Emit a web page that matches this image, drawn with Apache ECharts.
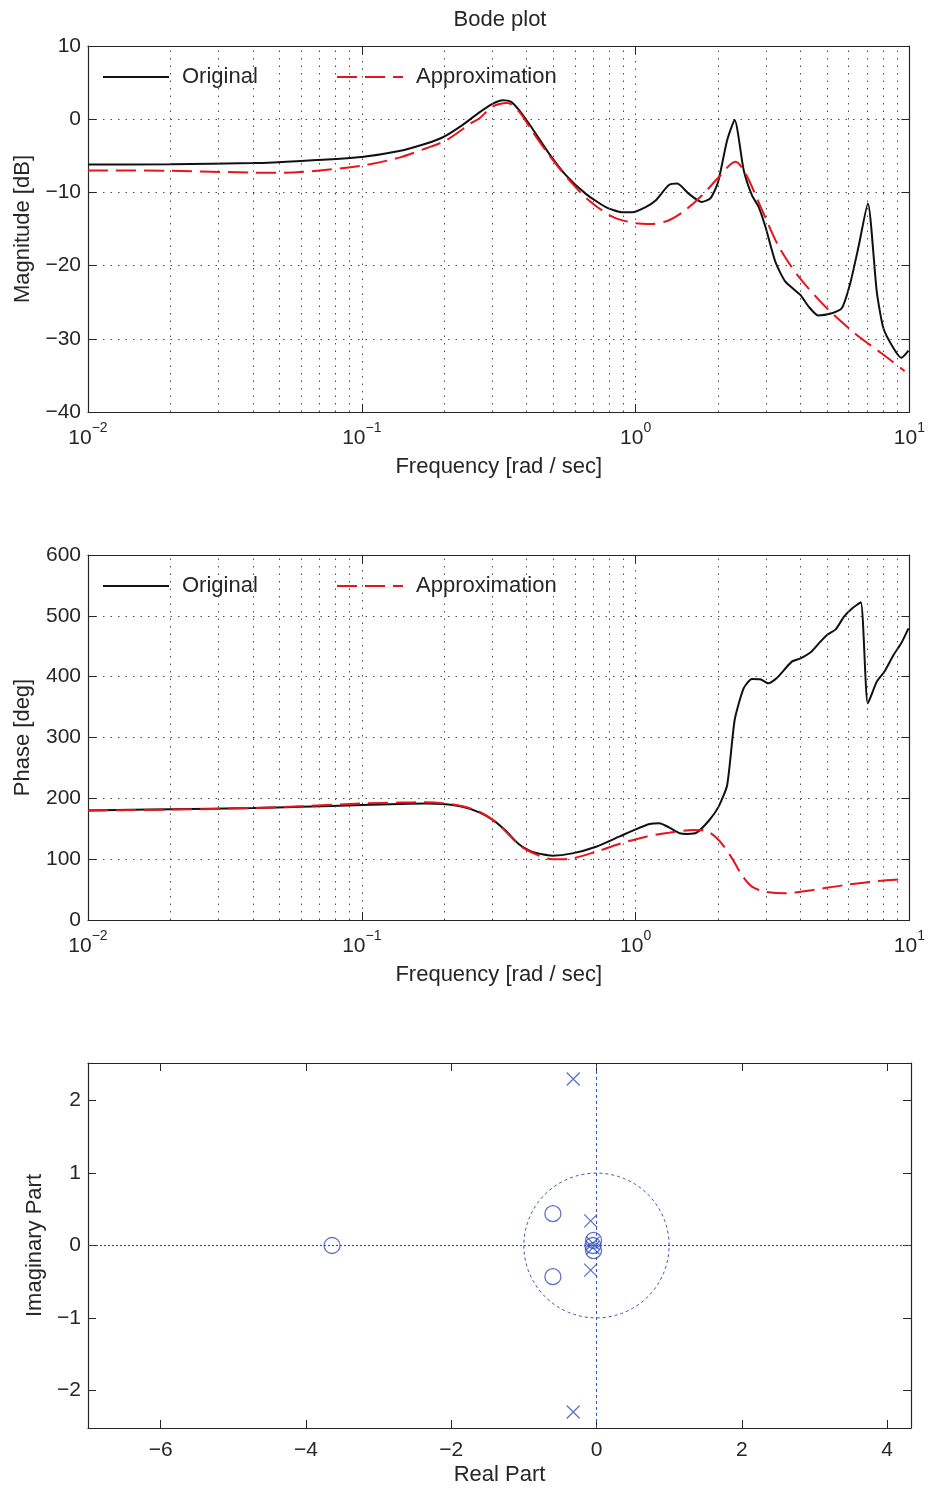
<!DOCTYPE html>
<html>
<head>
<meta charset="utf-8">
<script src="https://cdn.jsdelivr.net/npm/echarts@6/dist/echarts.min.js"></script>
<style>
  html, body { margin: 0; padding: 0; background: #ffffff; }
  #chart { width: 928px; height: 1488px; }
</style>
</head>
<body>
<div id="chart"></div>
<script>
// ---- Bode magnitude, original system (rad/s, dB) ----
const magOrigFreq = [0.01, 0.02, 0.04, 0.06, 0.1, 0.137, 0.171, 0.197, 0.233, 0.268, 0.30, 0.327, 0.35, 0.376, 0.42, 0.483, 0.556, 0.658, 0.778, 0.893, 0.972, 1.088, 1.183, 1.323, 1.419, 1.565, 1.741, 1.877, 2.0, 2.158, 2.30, 2.483, 2.661, 2.816, 2.979, 3.24, 3.524, 3.996, 4.285, 4.633, 5.209, 5.666, 6.08, 6.52, 7.05, 7.60, 8.04, 8.75, 9.33, 9.92];
const magOrigDb = [-6.2, -6.15, -6.0, -5.7, -5.15, -4.35, -3.35, -2.5, -0.8, 0.9, 2.1, 2.6, 2.4, 1.2, -1.3, -4.7, -7.65, -10.2, -12.0, -12.7, -12.7, -12.0, -11.1, -9.0, -8.8, -10.2, -11.3, -10.8, -8.6, -2.9, -0.1, -7.0, -10.4, -12.0, -14.7, -19.5, -22.2, -24.0, -25.6, -26.8, -26.5, -25.8, -22.4, -17.4, -11.5, -23.6, -28.6, -31.3, -32.6, -31.6];

// ---- Bode magnitude, reduced-order approximation ----
const magApproxFreq = [0.01, 0.02, 0.04, 0.05, 0.066, 0.1, 0.137, 0.171, 0.204, 0.254, 0.2685, 0.30, 0.34, 0.376, 0.42, 0.483, 0.571, 0.676, 0.822, 1.0, 1.15, 1.323, 1.521, 1.75, 2.014, 2.316, 2.518, 2.895, 3.331, 3.94, 4.928, 6.34, 7.93, 9.6];
const magApproxDb = [-7.0, -7.05, -7.3, -7.33, -7.1, -6.35, -5.25, -4.0, -2.85, -0.4, 0.1, 1.7, 2.2, 1.0, -1.7, -4.9, -8.3, -11.1, -13.3, -14.2, -14.3, -13.8, -12.4, -10.4, -7.9, -5.8, -7.4, -12.4, -17.4, -21.5, -25.6, -29.3, -32.0, -34.4];

// ---- Bode phase, original system (deg) ----
const phaseOrigFreq = [0.01, 0.02, 0.04, 0.06, 0.1, 0.137, 0.171, 0.197, 0.233, 0.2685, 0.30, 0.335, 0.376, 0.42, 0.496, 0.587, 0.717, 0.87, 1.0, 1.125, 1.22, 1.323, 1.45, 1.55, 1.67, 1.86, 2.01, 2.16, 2.30, 2.48, 2.66, 2.85, 3.05, 3.27, 3.72, 4.0, 4.36, 4.67, 5.0, 5.38, 5.77, 6.19, 6.64, 7.05, 7.60, 8.1, 8.75, 9.33, 9.92];
const phaseOrigDeg = [180, 182, 184, 186, 189, 190.7, 191.5, 190.5, 186, 177, 165, 147, 124, 112, 105.7, 109.5, 120.5, 137, 149, 157.8, 159, 152.4, 142.5, 141.4, 143.5, 164.4, 186.3, 222, 328.8, 380.9, 396.2, 395.7, 389, 397.3, 424.7, 430.1, 440, 454.8, 468.5, 477.8, 498.6, 512.4, 522.2, 356.2, 391.8, 408.2, 435.6, 454.8, 479.5];

// ---- Bode phase, reduced-order approximation ----
const phaseApproxFreq = [0.01, 0.02, 0.04, 0.06, 0.1, 0.137, 0.171, 0.197, 0.233, 0.2685, 0.30, 0.335, 0.376, 0.42, 0.496, 0.587, 0.717, 0.87, 1.09, 1.323, 1.62, 1.80, 2.01, 2.25, 2.44, 2.66, 2.98, 3.52, 4.43, 5.81, 7.7, 9.4];
const phaseApproxDeg = [180, 181.5, 184, 187, 191.5, 193, 193.5, 192, 187, 178, 165, 146, 123, 110.6, 99.7, 101.3, 112.3, 125, 137, 143.5, 148, 146.8, 131.5, 101.3, 74, 54.8, 46.6, 43.8, 49.3, 57.5, 64, 66.9];

// ---- Pole / zero locations of the approximation ----
const poleRe = [-0.32, -0.32, -0.08, -0.08, -0.05, -0.05];
const poleIm = [2.30, -2.30, 0.34, -0.34, 0.03, -0.03];
const zeroRe = [-3.64, -0.60, -0.60, -0.04, -0.04, -0.05];
const zeroIm = [0.0, 0.44, -0.43, 0.07, -0.07, 0.0];

// ---- Tick labels ----
const decadeTicks = [0.01, 0.1, 1, 10];
const realTicks = [-6, -4, -2, 0, 2, 4];
const imagTicks = [-2, -1, 0, 1, 2];

const FONT = '"Liberation Sans", Arial, Helvetica, sans-serif';
const TXT = '#262626';
const AX = '#262626';
const GRIDC = '#4a4a4a';
const BLUE = '#3352b8';

const zip = (a, b) => a.map((v, i) => [v, b[i]]);
const fmtNum = v => (v < 0 ? '\u2212' + Math.abs(v) : String(v));

// minor log grid positions (2..9 within each decade)
const minorFreqs = [];
decadeTicks.slice(0, 3).forEach(d => { for (let m = 2; m <= 9; m++) minorFreqs.push(+(m * d).toPrecision(3)); });

const dotted = { color: GRIDC, width: 1, type: [1.5, 6] };

function logXAxis(gridIndex, withName) {
  return {
    type: 'log', logBase: 10, gridIndex, min: 0.01, max: 10, position: 'bottom',
    name: withName ? 'Frequency [rad / sec]' : '', nameLocation: 'middle', nameGap: 44,
    nameTextStyle: { fontFamily: FONT, fontSize: 22, color: TXT },
    axisLine: { show: true, onZero: false, lineStyle: { color: AX, width: 1.2 } },
    axisTick: { show: true, inside: true, length: 8, lineStyle: { color: AX } },
    axisLabel: {
      show: true, margin: 9, color: TXT, fontFamily: FONT,
      showMinLabel: true, showMaxLabel: true,
      formatter: v => {
        const e = Math.round(Math.log10(v));
        return '{b|10}{s|' + fmtNum(e) + '}';
      },
      rich: {
        b: { fontFamily: FONT, fontSize: 21, color: TXT, lineHeight: 28, verticalAlign: 'bottom' },
        s: { fontFamily: FONT, fontSize: 14, color: TXT, verticalAlign: 'top' }
      }
    },
    splitLine: { show: true, lineStyle: dotted }
  };
}
function logXTop(gridIndex) {
  return {
    type: 'log', logBase: 10, gridIndex, min: 0.01, max: 10, position: 'top',
    axisLine: { show: true, onZero: false, lineStyle: { color: AX, width: 1.2 } },
    axisTick: { show: true, inside: true, length: 8, lineStyle: { color: AX } },
    axisLabel: { show: false }, splitLine: { show: false }
  };
}
function valYAxis(gridIndex, name, min, max, interval, nameGap) {
  return {
    type: 'value', gridIndex, min, max, interval, position: 'left',
    name, nameLocation: 'middle', nameGap, nameRotate: 90,
    nameTextStyle: { fontFamily: FONT, fontSize: 22, color: TXT },
    axisLine: { show: true, onZero: false, lineStyle: { color: AX, width: 1.2 } },
    axisTick: { show: true, inside: true, length: 8, lineStyle: { color: AX } },
    axisLabel: { margin: 7, fontFamily: FONT, fontSize: 21, color: TXT, formatter: fmtNum },
    splitLine: { show: true, lineStyle: dotted }
  };
}
function valYRight(gridIndex, min, max, interval) {
  return {
    type: 'value', gridIndex, min, max, interval, position: 'right',
    axisLine: { show: true, onZero: false, lineStyle: { color: AX, width: 1.2 } },
    axisTick: { show: true, inside: true, length: 8, lineStyle: { color: AX } },
    axisLabel: { show: false }, splitLine: { show: false }
  };
}

function legendItem(name, left, top) {
  return {
    data: [name], left, top, orient: 'horizontal', selectedMode: false,
    padding: 0, itemWidth: 66, itemHeight: 14, itemGap: 0,
    itemStyle: { opacity: 0 },
    textStyle: { fontFamily: FONT, fontSize: 22, color: TXT, padding: [0, 0, 0, 8] }
  };
}

const origLine = { color: '#111111', width: 2 };
const approxLine = { color: '#e8141c', width: 2, type: [20, 8] };

const chart = echarts.init(document.getElementById('chart'), null, { renderer: 'canvas' });

const option = {
  backgroundColor: '#ffffff',
  animation: false,
  title: {
    text: 'Bode plot', left: 500, top: 9, textAlign: 'center', padding: 0,
    textStyle: { fontFamily: FONT, fontSize: 22, fontWeight: 'normal', color: TXT }
  },
  legend: [
    legendItem('Original', 102, 66),
    legendItem('Approximation', 336, 66),
    legendItem('Original', 102, 575),
    legendItem('Approximation', 336, 575)
  ],
  grid: [
    { left: 88, top: 46, width: 823, height: 366 },
    { left: 88, top: 555, width: 823, height: 365 },
    { left: 88, top: 1063, width: 823, height: 365 }
  ],
  xAxis: [
    logXAxis(0, true), logXTop(0),
    logXAxis(1, true), logXTop(1),
    {
      type: 'value', gridIndex: 2, min: -7, max: 4.33, position: 'bottom',
      name: 'Real Part', nameLocation: 'middle', nameGap: 36,
      nameTextStyle: { fontFamily: FONT, fontSize: 22, color: TXT },
      axisLine: { show: true, onZero: false, lineStyle: { color: AX, width: 1.2 } },
      axisTick: { show: true, inside: true, length: 8, customValues: realTicks, lineStyle: { color: AX } },
      axisLabel: { margin: 12, fontFamily: FONT, fontSize: 21, color: TXT, customValues: realTicks, formatter: fmtNum },
      splitLine: { show: false }
    },
    {
      type: 'value', gridIndex: 2, min: -7, max: 4.33, position: 'top',
      axisLine: { show: true, onZero: false, lineStyle: { color: AX, width: 1.2 } },
      axisTick: { show: true, inside: true, length: 8, customValues: realTicks, lineStyle: { color: AX } },
      axisLabel: { show: false }, splitLine: { show: false }
    }
  ],
  yAxis: [
    valYAxis(0, 'Magnitude [dB]', -40, 10, 10, 54), valYRight(0, -40, 10, 10),
    valYAxis(1, 'Phase [deg]', 0, 600, 100, 54), valYRight(1, 0, 600, 100),
    {
      type: 'value', gridIndex: 2, min: -2.52, max: 2.52, position: 'left',
      name: 'Imaginary Part', nameLocation: 'middle', nameGap: 42, nameRotate: 90,
      nameTextStyle: { fontFamily: FONT, fontSize: 22, color: TXT },
      axisLine: { show: true, onZero: false, lineStyle: { color: AX, width: 1.2 } },
      axisTick: { show: true, inside: true, length: 8, customValues: imagTicks, lineStyle: { color: AX } },
      axisLabel: { margin: 7, fontFamily: FONT, fontSize: 21, color: TXT, customValues: imagTicks, formatter: fmtNum },
      splitLine: { show: false }
    },
    {
      type: 'value', gridIndex: 2, min: -2.52, max: 2.52, position: 'right',
      axisLine: { show: true, onZero: false, lineStyle: { color: AX, width: 1.2 } },
      axisTick: { show: true, inside: true, length: 8, customValues: imagTicks, lineStyle: { color: AX } },
      axisLabel: { show: false }, splitLine: { show: false }
    }
  ],
  series: [
    {
      name: 'Original', type: 'line', xAxisIndex: 0, yAxisIndex: 0,
      data: zip(magOrigFreq, magOrigDb), showSymbol: false, symbol: 'none',
      smooth: 0.2, lineStyle: origLine, itemStyle: { color: '#111111' }, z: 4,
      markLine: {
        silent: true, symbol: 'none', label: { show: false }, lineStyle: dotted,
        data: minorFreqs.map(f => ({ xAxis: f }))
      }
    },
    {
      name: 'Approximation', type: 'line', xAxisIndex: 0, yAxisIndex: 0,
      data: zip(magApproxFreq, magApproxDb), showSymbol: false, symbol: 'none',
      smooth: 0.3, lineStyle: approxLine, itemStyle: { color: '#e8141c' }, z: 5
    },
    {
      name: 'Original', type: 'line', xAxisIndex: 2, yAxisIndex: 2,
      data: zip(phaseOrigFreq, phaseOrigDeg), showSymbol: false, symbol: 'none',
      smooth: 0.2, lineStyle: origLine, itemStyle: { color: '#111111' }, z: 4,
      markLine: {
        silent: true, symbol: 'none', label: { show: false }, lineStyle: dotted,
        data: minorFreqs.map(f => ({ xAxis: f }))
      }
    },
    {
      name: 'Approximation', type: 'line', xAxisIndex: 2, yAxisIndex: 2,
      data: zip(phaseApproxFreq, phaseApproxDeg), showSymbol: false, symbol: 'none',
      smooth: 0.3, lineStyle: approxLine, itemStyle: { color: '#e8141c' }, z: 5
    },
    {
      // unit circle plus the real / imaginary axes
      name: 'Unit circle', type: 'line', xAxisIndex: 4, yAxisIndex: 4,
      data: Array.from({ length: 145 }, (_, i) => {
        const t = i * Math.PI / 72;
        return [Math.cos(t), Math.sin(t)];
      }),
      showSymbol: false, symbol: 'none', smooth: false,
      lineStyle: { color: BLUE, width: 1, type: [3, 3] },
      itemStyle: { color: BLUE },
      markLine: {
        silent: true, symbol: 'none', label: { show: false },
        data: [
          { yAxis: 0, lineStyle: { color: BLUE, width: 1.2, type: [2, 2] } },
          { xAxis: 0, lineStyle: { color: BLUE, width: 1, type: [3, 3] } }
        ]
      }
    },
    {
      name: 'Poles', type: 'scatter', xAxisIndex: 4, yAxisIndex: 4,
      data: zip(poleRe, poleIm),
      symbol: 'path://M0,0L10,10M10,0L0,10', symbolSize: 13,
      itemStyle: { color: 'rgba(0,0,0,0)', borderColor: BLUE, borderWidth: 1.3 }, z: 6
    },
    {
      name: 'Zeros', type: 'scatter', xAxisIndex: 4, yAxisIndex: 4,
      data: zip(zeroRe, zeroIm),
      symbol: 'circle', symbolSize: 16,
      itemStyle: { color: 'rgba(0,0,0,0)', borderColor: BLUE, borderWidth: 1.3 }, z: 6
    }
  ]
};

chart.setOption(option);
</script>
</body>
</html>
